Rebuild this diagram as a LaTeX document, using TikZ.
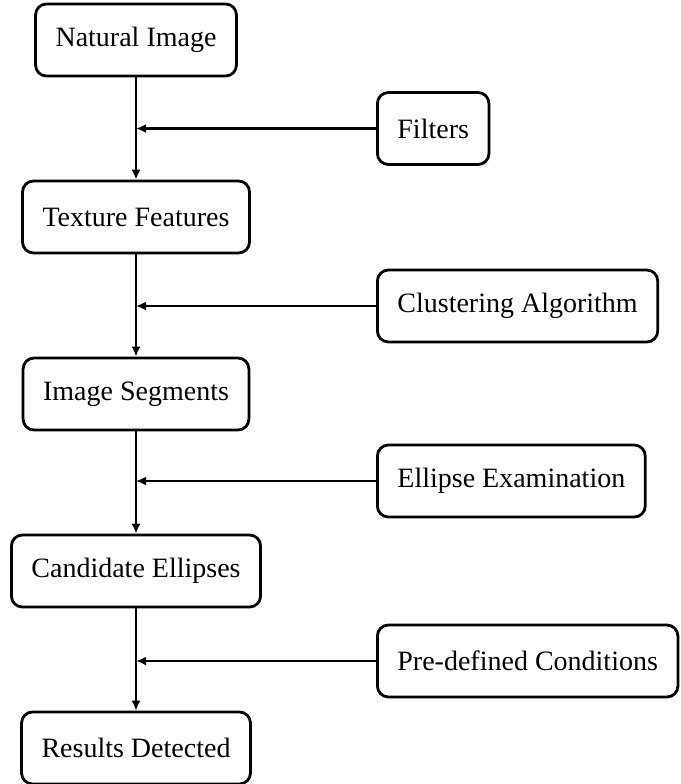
\documentclass[tikz,border=0pt]{standalone}
\usepackage{fontspec}
\setmainfont{Liberation Serif}
\usetikzlibrary{arrows.meta, positioning}

\tikzset{
  stage/.style={draw, line width=2.8pt, rounded corners=11pt, inner xsep=20pt,
    minimum height=72pt, font=\fontsize{28}{32}\selectfont},
  flow/.style={line width=2.8pt, -{Latex[length=10pt,width=9pt]}}
}

\begin{document}
\begin{tikzpicture}[x=1pt, y=-1pt]
\useasboundingbox (0,0) rectangle (680,784);
% main chain
\node[stage] (nat) at (136,40) {Natural Image};
\node[stage] (tex) at (136,217) {Texture Features};
\node[stage] (seg) at (136,394) {Image Segments};
\node[stage] (cand) at (136,571) {Candidate Ellipses};
\node[stage] (res) at (136,748) {Results Detected};
% side inputs
\node[stage, anchor=west] (filt) at (376,128.5) {Filters};
\node[stage, anchor=west] (clus) at (376,306) {Clustering Algorithm};
\node[stage, anchor=west] (ell) at (376,481) {Ellipse Examination};
\node[stage, anchor=west] (cond) at (376,661) {Pre-defined Conditions};

\draw[flow] (nat) -- (tex);
\draw[flow] (tex) -- (seg);
\draw[flow] (seg) -- (cand);
\draw[flow] (cand) -- (res);

\draw[flow] (filt.west) -- (filt.west -| nat.south);
\draw[flow] (clus.west) -- (clus.west -| tex.south);
\draw[flow] (ell.west) -- (ell.west -| seg.south);
\draw[flow] (cond.west) -- (cond.west -| cand.south);
\end{tikzpicture}
\end{document}
